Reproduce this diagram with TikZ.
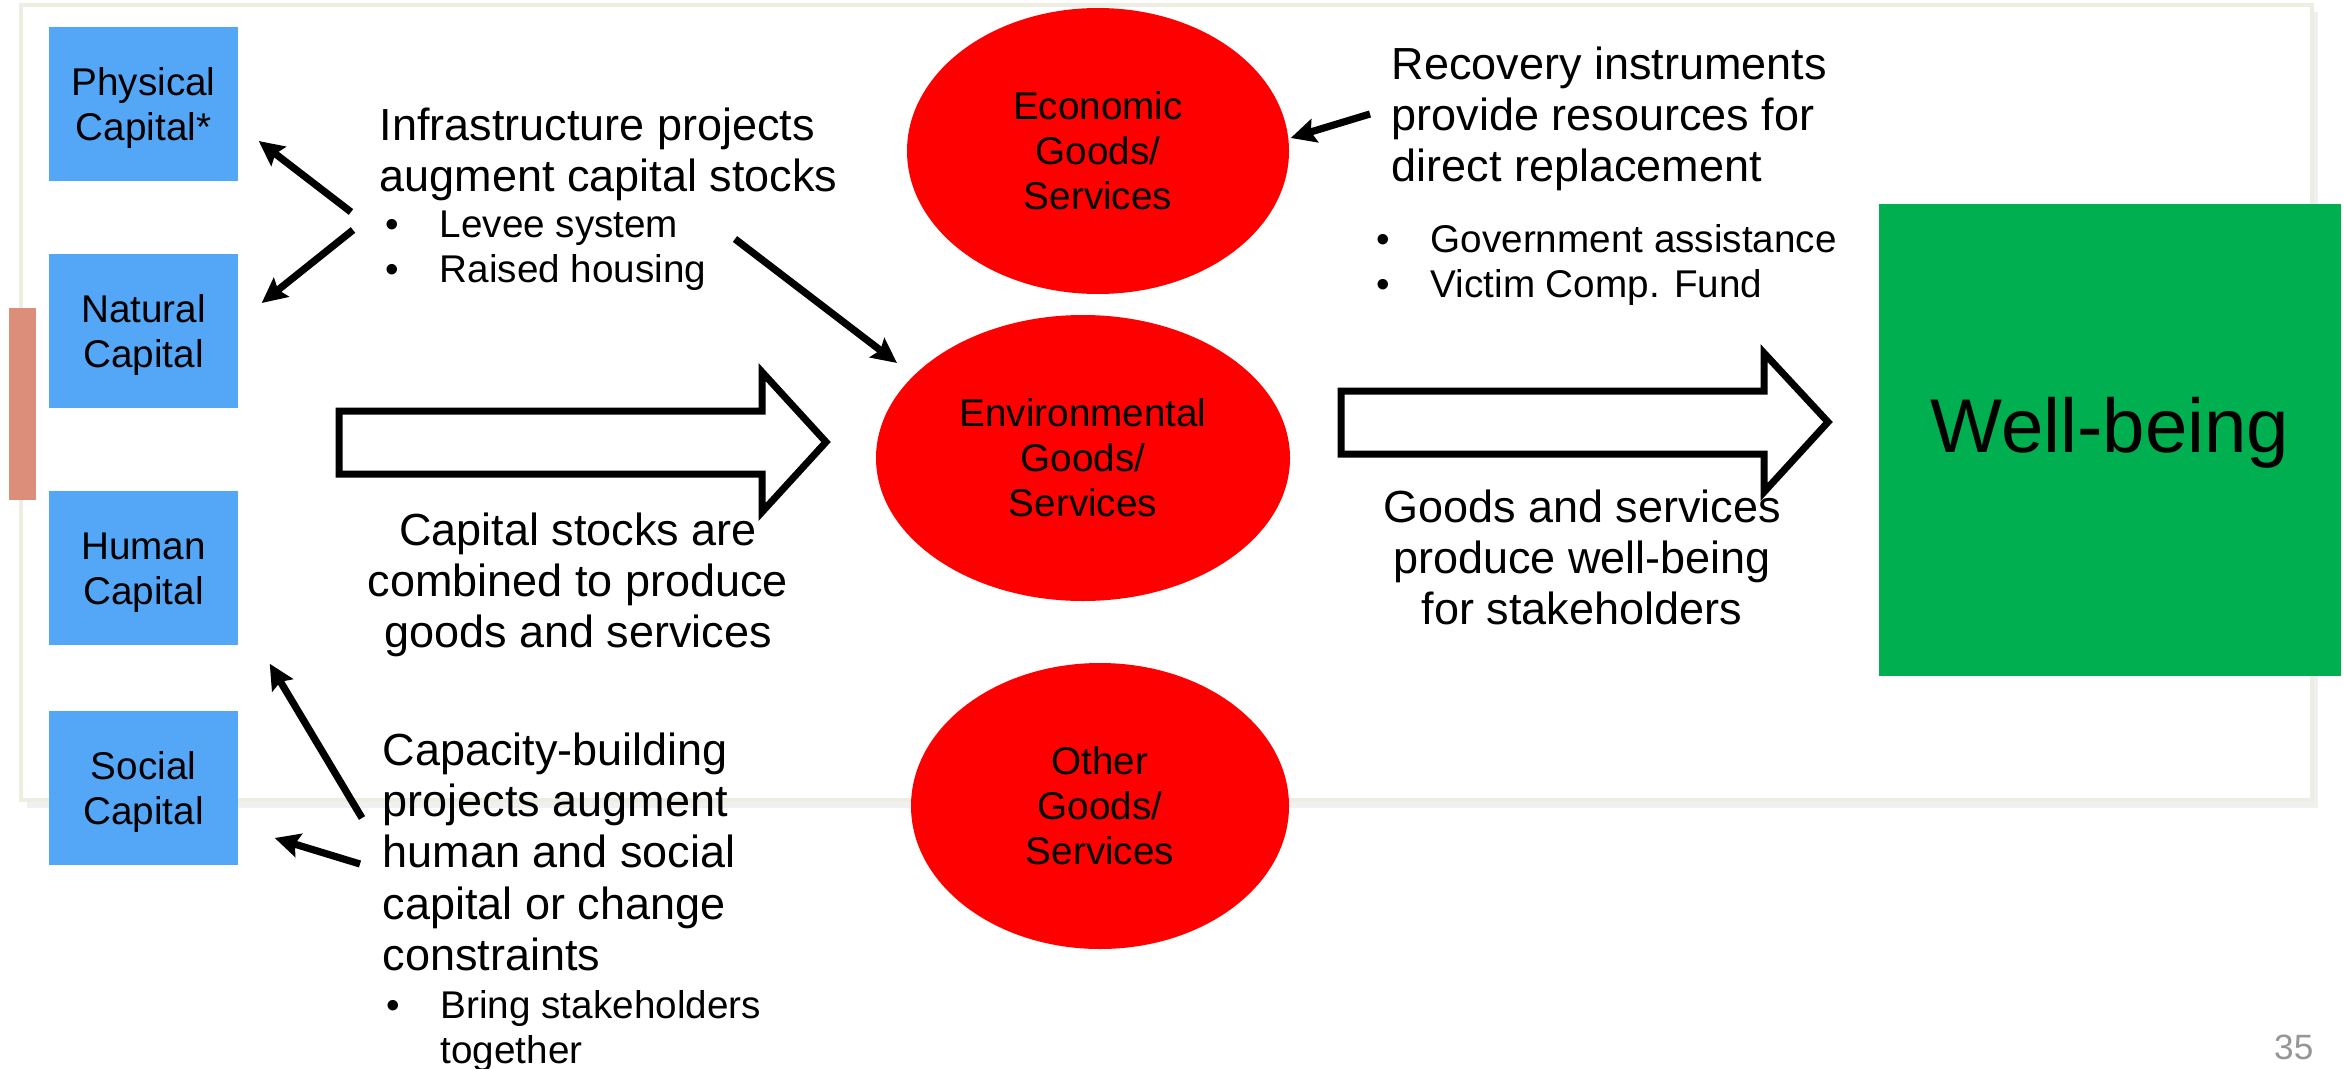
\documentclass[tikz,border=0pt]{standalone}
\usepackage{fontspec}
\setmainfont{Liberation Sans}
\usetikzlibrary{arrows.meta,shapes.geometric}

\definecolor{capblue}{RGB}{84,166,246}
\definecolor{goodsred}{RGB}{255,0,0}
\definecolor{wellgreen}{RGB}{0,176,80}
\definecolor{salmon}{RGB}{220,142,122}
\definecolor{frameline}{RGB}{236,238,226}
\definecolor{pagegray}{RGB}{150,150,150}

\newcommand{\bul}{\makebox[0.54cm][l]{\textbullet}}

\begin{document}
\begin{tikzpicture}[
    capbox/.style = {fill = capblue, minimum width = 1.89cm, minimum height = 1.54cm, inner sep = 0pt, text height = 23.2pt, align = center, font = \fontsize{11}{12.8}\selectfont},
    goodsell/.style = {ellipse, fill = goodsred, inner sep = 0pt, minimum height = 2.86cm, align = center, font = \fontsize{11}{12.8}\selectfont},
    note/.style = {inner sep = 0pt, font = \fontsize{12.8}{14.6}\selectfont},
    bullets/.style = {inner sep = 0pt, align = left, anchor = north west, font = \fontsize{11}{12.8}\selectfont},
    thinarrow/.style = {line width = 0.072cm, -{Stealth[length = 0.25cm, width = 0.24cm, inset = 0.04cm]}},
    bigarrow/.style = {line width = 0.07cm, miter limit = 10, fill = white}
]
        \useasboundingbox (0,0) rectangle (23.44,-10.68);

        % slide frame
        \fill[black!6] (0.27,-0.12) rectangle (23.18,-8.08);
        \filldraw[fill = white, draw = frameline, line width = 0.04cm] (0.21,-0.05) rectangle (23.12,-8.00);
        \fill[salmon] (0.09,-3.08) rectangle (0.36,-5.00);

        % capital stocks
        \node[capbox] (phys) at (1.435,-1.04) {Physical\\Capital*};
        \node[capbox] (nat) at (1.435,-3.31) {Natural\\Capital};
        \node[capbox] (hum) at (1.435,-5.68) {Human\\Capital};
        \node[capbox] (soc) at (1.435,-7.88) {Social\\Capital};

        % goods and services
        \node[goodsell, minimum width = 3.82cm] (econ) at (10.98,-1.51) {Economic\\Goods/\\Services};
        \node[goodsell, minimum width = 4.14cm] (env) at (10.83,-4.58) {Environmental\\Goods/\\Services};
        \node[goodsell, minimum width = 3.78cm] (other) at (11.00,-8.06) {Other\\Goods/\\Services};

        \node[fill = wellgreen, minimum width = 4.62cm, minimum height = 4.72cm, inner sep = 0pt, text depth = 8.5pt, font = \fontsize{21.7}{24}\selectfont] (well) at (21.10,-4.40) {Well-being};

        % big arrows
        \draw[bigarrow] (3.39,-4.11) -- (7.62,-4.11) -- (7.62,-3.72) -- (8.26,-4.42) -- (7.62,-5.12) -- (7.62,-4.74) -- (3.39,-4.74) -- cycle;
        \draw[bigarrow] (13.41,-3.91) -- (17.64,-3.91) -- (17.64,-3.53) -- (18.28,-4.22) -- (17.64,-4.92) -- (17.64,-4.54) -- (13.41,-4.54) -- cycle;

        % annotations
        \node[note, anchor = north west, align = left] (infra) at (3.79,-1.07) {Infrastructure projects\\augment capital stocks};
        \node[bullets] (infrab) at (3.85,-2.10) {\bul Levee system\\\bul Raised housing};

        \node[note, anchor = north, align = center] (combine) at (5.78,-5.12) {Capital stocks are\\combined to produce\\goods and services};

        \node[note, anchor = north west, align = left] (capacity) at (3.82,-7.32) {Capacity-building\\projects augment\\human and social\\capital or change\\constraints};
        \node[bullets] (capacityb) at (3.86,-9.90) {\bul Bring stakeholders\\\makebox[0.54cm]{}together};

        \node[note, anchor = north west, align = left] (recovery) at (13.91,-0.46) {Recovery instruments\\provide resources for\\direct replacement};
        \node[bullets] (recoveryb) at (13.76,-2.24) {\bul Government assistance\\\bul Victim Comp. Fund};

        \node[note, anchor = north, align = center] (produce) at (15.82,-4.89) {Goods and services\\produce well-being\\for stakeholders};

        % thin arrows
        \draw[thinarrow] ([shift = {(-0.28,-1.05)}]infra.north west) -- ([shift = {(0.20,-0.37)}]phys.east);
        \draw[thinarrow] ([shift = {(-0.26,-1.23)}]infra.north west) -- ([shift = {(0.23,0.28)}]nat.east);
        \draw[thinarrow] ([shift = {(3.56,-1.32)}]infra.north west) -- ([shift = {(-1.86,0.95)}]env.center);
        \draw[thinarrow] ([shift = {(-0.20,-0.86)}]capacity.north west) -- ([shift = {(0.31,-0.18)}]hum.south east);
        \draw[thinarrow] ([shift = {(-0.22,-1.32)}]capacity.north west) -- ([shift = {(0.36,-0.50)}]soc.east);
        \draw[thinarrow] ([shift = {(-0.21,-0.68)}]recovery.north west) -- ([shift = {(0.01,0.13)}]econ.east);

        \node[anchor = base east, inner sep = 0pt, text = pagegray, font = \fontsize{10}{12}\selectfont] (pnum) at (23.14,-10.59) {35};
\end{tikzpicture}
\end{document}
